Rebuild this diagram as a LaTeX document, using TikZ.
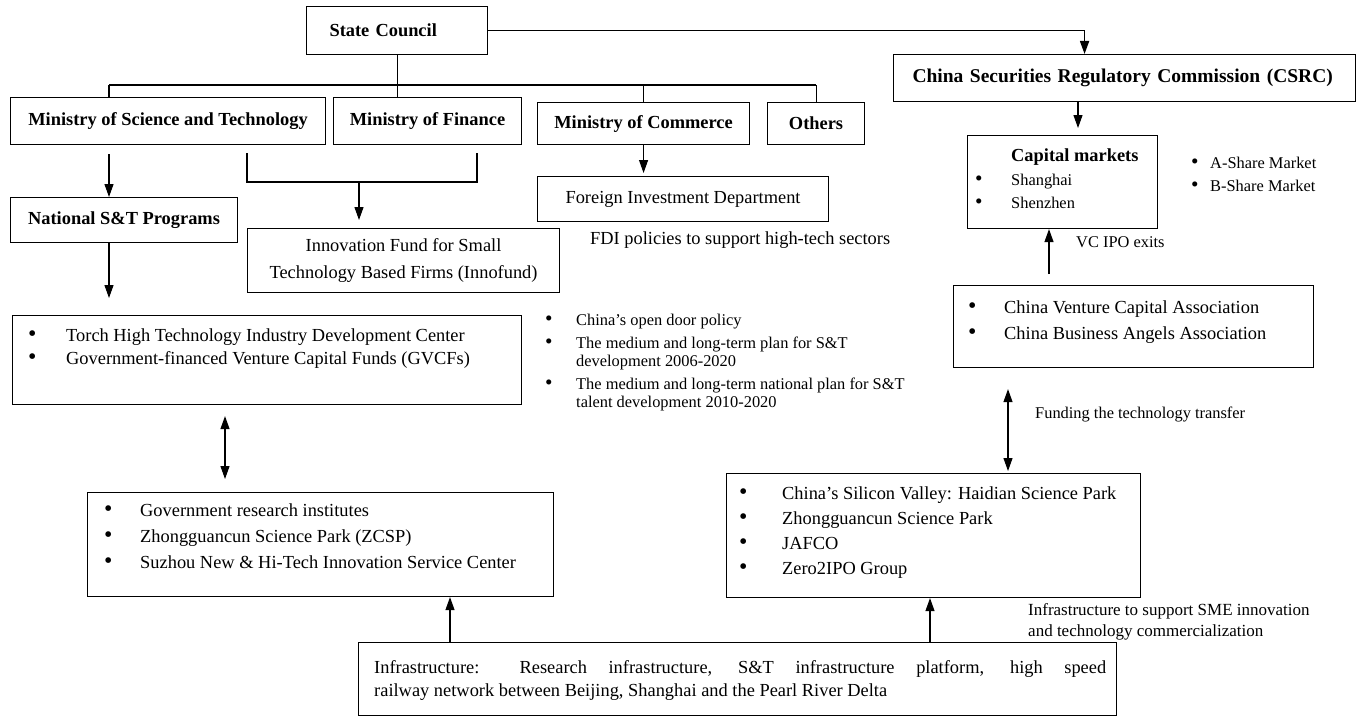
\documentclass[tikz,border=0pt]{standalone}
\usepackage{fontspec}
\setmainfont{Liberation Serif}
\usetikzlibrary{arrows.meta,calc}

\newcommand\txtmain{\fontsize{18.4}{26}\selectfont}
\newcommand\txtsmall{\fontsize{16.4}{23}\selectfont}
\newcommand\blt[1]{\makebox[#1][l]{\scalebox{1.3}{\textbullet}}}

\tikzset{
  cell/.style={draw, line width=1.1pt, inner sep=0pt, anchor=north west, align=center, font=\txtmain},
  head/.style={cell, font=\txtmain\bfseries},
  bus/.style={line width=1.7pt},
  link/.style={line width=1.1pt},
  remark/.style={inner sep=0pt, anchor=base west, align=left},
  >={Triangle[length=13pt,width=9pt]}
}

\begin{document}
\begin{tikzpicture}[x=1pt,y=-1pt]
    \useasboundingbox (0,0) rectangle (1357,717);

    % top level
    \node[head, minimum width=181pt, minimum height=48pt, text width=135pt, inner xsep=23pt, align=left] (sc) at (306,6) {State Council};
    \node[head, minimum width=462pt, minimum height=47pt, text width=424pt, inner xsep=19pt, align=left,
          font=\fontsize{19.5}{24}\selectfont\bfseries] (csrc) at (893,54) {China Securities Regulatory Commission (CSRC)};

    \node[head, minimum width=315pt, minimum height=47pt] (mst) at (10,97) {Ministry of Science and Technology};
    \node[head, minimum width=188pt, minimum height=47pt] (mof) at (333,97) {Ministry of Finance};
    \node[head, minimum width=212pt, minimum height=42pt] (moc) at (537,102) {Ministry of Commerce};
    \node[head, minimum width=97pt, minimum height=42pt] (others) at (767,102) {Others};

    \node[head, minimum width=227pt, minimum height=45pt] (nstp) at (10,197) {National S\&T Programs};
    \node[cell, minimum width=312pt, minimum height=64pt, font=\fontsize{18.4}{27}\selectfont] (innofund) at (247,228)
        {Innovation Fund for Small\\Technology Based Firms (Innofund)};
    \node[cell, minimum width=291pt, minimum height=45pt] (fid) at (537,176) {Foreign Investment Department};

    % boxes with lists
    \node[cell, minimum width=190pt, minimum height=93pt] (capital) at (967,135) {};
    \node[cell, minimum width=509pt, minimum height=89pt] (torch) at (12,315) {};
    \node[cell, minimum width=360pt, minimum height=82pt] (cvca) at (953,285) {};
    \node[cell, minimum width=466pt, minimum height=104pt] (gov) at (87,492) {};
    \node[cell, minimum width=414pt, minimum height=124pt] (sv) at (726,473) {};
    \node[cell, minimum width=758pt, minimum height=73pt] (infra) at (358,642) {};

    \node[remark, font=\txtmain\bfseries] (captitle) at (1011,161) {Capital markets};
    \node[remark] (caplist) at (975,185) {\parbox[t]{170pt}{\raggedright\txtsmall
        \blt{36pt}Shanghai\\ \blt{36pt}Shenzhen}};
    \node[remark] (sharelist) at (1191,168) {\parbox[t]{150pt}{\raggedright\txtsmall
        \blt{19pt}A-Share Market\\ \blt{19pt}B-Share Market}};
    \node[remark] (torchlist) at (28,341) {\parbox[t]{485pt}{\raggedright\txtmain\baselineskip=23pt
        \blt{38pt}Torch High Technology Industry Development Center\\
        \blt{38pt}Government-financed Venture Capital Funds (GVCFs)}};
    \node[remark] (cvcalist) at (968,313) {\parbox[t]{340pt}{\raggedright\txtmain
        \blt{36pt}China Venture Capital Association\\
        \blt{36pt}China Business Angels Association}};
    \node[remark] (govlist) at (104,516) {\parbox[t]{440pt}{\raggedright\txtmain
        \blt{36pt}Government research institutes\\
        \blt{36pt}Zhongguancun Science Park (ZCSP)\\
        \blt{36pt}Suzhou New \& Hi-Tech Innovation Service Center}};
    \node[remark] (svlist) at (739,499) {\parbox[t]{395pt}{\raggedright\txtmain\baselineskip=25pt
        \blt{43pt}China's Silicon Valley: Haidian Science Park\\
        \blt{43pt}Zhongguancun Science Park\\
        \blt{43pt}JAFCO\\
        \blt{43pt}Zero2IPO Group}};
    \node[remark] (infratext) at (374,673) {\parbox[t]{732pt}{\txtmain\baselineskip=23pt
        Infrastructure: Research infrastructure, S\&T infrastructure platform, high speed\linebreak
        railway network between Beijing, Shanghai and the Pearl River Delta}};

    % free texts
    \node[remark, font=\txtmain] (fdi) at (590,244) {FDI policies to support high-tech sectors};
    \node[remark] (policies) at (545,325) {\parbox[t]{400pt}{\raggedright\txtsmall\baselineskip=18pt
        \blt{31pt}China's open door policy\\[5pt]
        \blt{31pt}The medium and long-term plan for S\&T\\
        \hspace*{31pt}development 2006-2020\\[5pt]
        \blt{31pt}The medium and long-term national plan for S\&T\\
        \hspace*{31pt}talent development 2010-2020}};
    \node[remark, font=\txtsmall] (vcipo) at (1076,247) {VC IPO exits};
    \node[remark, font=\txtsmall] (funding) at (1035,418) {Funding the technology transfer};
    \node[remark] (sme) at (1028,615) {\parbox[t]{330pt}{\raggedright\fontsize{17}{21}\selectfont
        Infrastructure to support SME innovation\\
        and technology commercialization}};

    % columns of the connectors
    \coordinate (busL) at (109,85);
    \coordinate (busR) at (others.north |- busL);
    \coordinate (brL) at (247,153);
    \coordinate (brR) at (477,153);
    \coordinate (brM) at (359,182);
    \coordinate (tgcol) at (225,0);
    \coordinate (igcol) at (450,0);
    \coordinate (iscol) at (930,0);
    \coordinate (cscol) at (1008,0);
    \coordinate (vccol) at (1049,0);
    \coordinate (cmcol) at (1078,0);

    \draw[bus,->] (sc.east) -| ([xshift=-40pt]csrc.north);
    \draw[link] (sc.south) -- (sc.south |- mof.north);
    \draw[bus] (busL) -- (busR);
    \draw[link] (busL) -- (busL |- mst.north);
    \draw[link] (moc.north |- busL) -- (moc.north);
    \draw[link] (busR) -- (others.north);

    \draw[link,->,shorten <=9pt] (busL |- mst.south) -- (busL |- nstp.north);
    \draw[link,->,shorten >=17pt] (busL |- nstp.south) -- (busL |- torch.north);
    \draw[bus] (brL) |- (brM) -| (brR);
    \draw[link,->,shorten >=8pt] (brM) -- (brM |- innofund.north);
    \draw[link,->,shorten >=3pt] (moc.south) -- (moc.south |- fid.north);

    \draw[link,<->,shorten <=11pt,shorten >=13pt] (tgcol |- torch.south) -- (tgcol |- gov.north);
    \draw[link,->] (igcol |- infra.north) -- (igcol |- gov.south);
    \draw[link,->] (iscol |- infra.north) -- (iscol |- sv.south);
    \draw[link,<->,shorten <=21pt,shorten >=2pt] (cscol |- cvca.south) -- (cscol |- sv.north);
    \draw[link,->,shorten <=11pt] (vccol |- cvca.north) -- (vccol |- capital.south);
    \draw[link,->,shorten >=7pt] (cmcol |- csrc.south) -- (cmcol |- capital.north);
\end{tikzpicture}
\end{document}
